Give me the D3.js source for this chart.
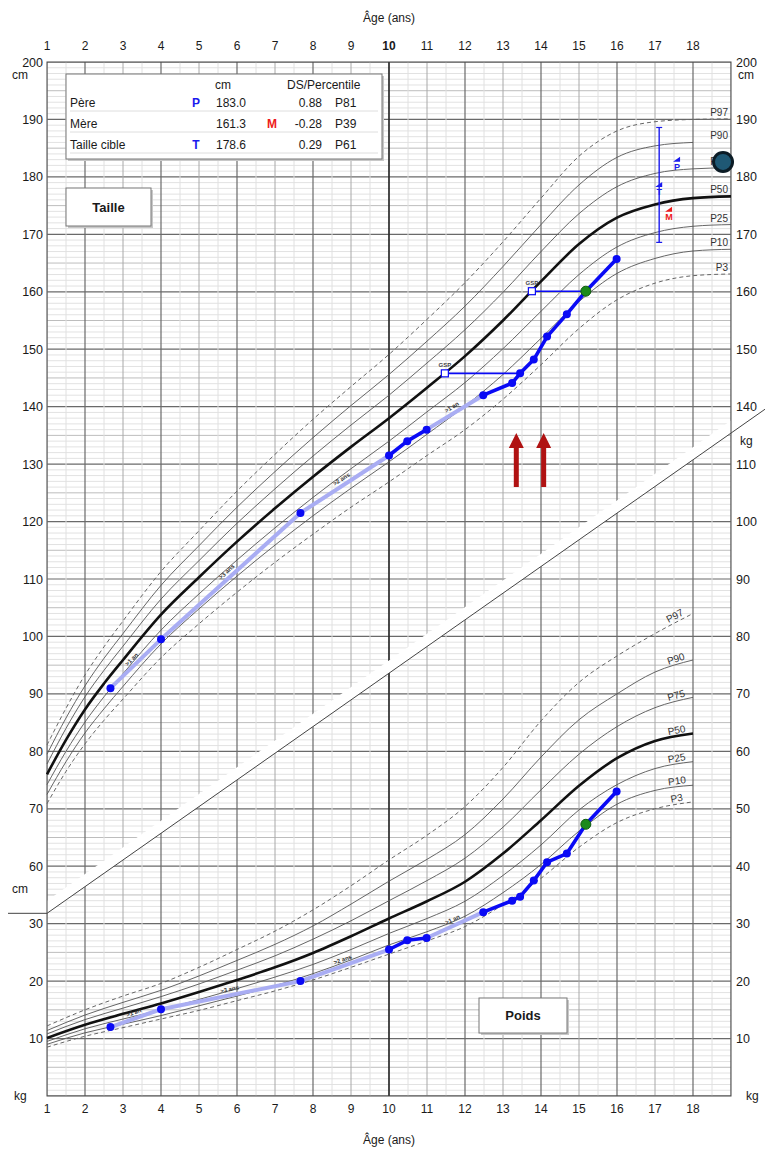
<!DOCTYPE html>
<html>
<head>
<meta charset="utf-8">
<script src="https://cdn.jsdelivr.net/npm/d3@7"></script>
<style>
  body { margin: 0; background: #fff; }
  svg { display: block; }
  text { font-family: "Liberation Sans", Arial, sans-serif; }
</style>
</head>
<body>
<svg id="chart" width="765" height="1150"></svg>
<script>
// ---------- tick labels ----------
const ageTicks = [1, 2, 3, 4, 5, 6, 7, 8, 9, 10, 11, 12, 13, 14, 15, 16, 17, 18];
const heightTicksLeft = [60, 70, 80, 90, 100, 110, 120, 130, 140, 150, 160, 170, 180, 190, 200];
const heightTicksRight = [140, 150, 160, 170, 180, 190, 200];
const weightTicksLeft = [10, 20, 30];
const weightTicksRight = [10, 20, 30, 40, 50, 60, 70, 80, 90, 100, 110];

// ---------- reference percentiles : height (cm) ----------
const pctNames = ["P3", "P10", "P25", "P50", "P75", "P90", "P97"];
const heightAges = [1, 1.5, 2, 2.5, 3, 4, 5, 6, 7, 8, 9, 10, 11, 12, 13, 14, 15, 16, 17, 18, 19];
const heightP3  = [70.9, 76.5, 81.3, 85.4, 89.1, 96.3, 102.2, 107.7, 112.9, 117.8, 122.5, 126.9, 131.5, 136.0, 141.3, 147.3, 153.6, 158.6, 161.5, 162.8, 163.1];
const heightP10 = [72.5, 78.2, 83.2, 87.4, 91.3, 98.7, 104.8, 110.5, 115.9, 121.0, 125.8, 130.4, 135.2, 140.1, 145.6, 151.9, 158.3, 163.2, 165.8, 167.1, 167.4];
const heightP25 = [74.2, 80.0, 85.1, 89.5, 93.5, 101.1, 107.4, 113.3, 118.9, 124.2, 129.2, 134.0, 139.1, 144.2, 150.1, 156.6, 163.0, 167.8, 170.3, 171.4, 171.7];
const heightP50 = [76.0, 82.0, 87.3, 91.8, 95.9, 103.8, 110.3, 116.5, 122.3, 127.8, 133.0, 138.0, 143.3, 148.8, 155.0, 161.8, 168.3, 172.9, 175.2, 176.3, 176.6];
const heightP75 = [77.8, 84.0, 89.5, 94.1, 98.3, 106.5, 113.2, 119.7, 125.7, 131.4, 136.8, 142.0, 147.6, 153.4, 159.9, 167.0, 173.6, 178.3, 180.6, 181.4, 181.6];
const heightP90 = [79.5, 85.8, 91.4, 96.2, 100.5, 108.9, 115.8, 122.5, 128.7, 134.6, 140.2, 145.6, 151.4, 157.5, 164.4, 171.7, 178.6, 183.4, 185.4, 186.0];
const heightP97 = [81.1, 87.5, 93.3, 98.2, 102.7, 111.3, 118.4, 125.3, 131.7, 137.8, 143.5, 149.1, 155.2, 161.6, 168.7, 176.3, 183.6, 188.0, 189.6, 190.0, 190.1];

// ---------- reference percentiles : weight (kg) ----------
const weightAges = [1, 2, 3, 4, 5, 6, 7, 8, 9, 10, 11, 12, 13, 14, 15, 16, 17, 18];
const weightP3  = [8.5, 10.4, 11.9, 13.4, 14.9, 16.6, 18.3, 20.2, 22.4, 24.7, 27.0, 29.5, 33.3, 37.9, 43.3, 47.6, 50.0, 51.2];
const weightP10 = [9.0, 11.0, 12.5, 14.0, 15.7, 17.4, 19.2, 21.3, 23.7, 26.3, 28.6, 31.3, 35.4, 40.3, 46.1, 50.8, 53.2, 54.1];
const weightP25 = [9.5, 11.7, 13.4, 15.0, 16.8, 18.7, 20.7, 22.9, 25.5, 28.3, 30.9, 33.9, 38.4, 43.7, 49.8, 54.2, 57.0, 58.2];
const weightP50 = [10.1, 12.4, 14.3, 16.1, 18.1, 20.2, 22.4, 24.9, 27.8, 30.9, 33.9, 37.3, 42.2, 48.0, 54.0, 58.8, 61.8, 63.1];
const weightP75 = [10.8, 13.3, 15.3, 17.3, 19.5, 21.9, 24.4, 27.3, 30.5, 34.0, 37.5, 41.4, 46.8, 53.3, 59.5, 64.3, 67.6, 69.4];
const weightP90 = [11.4, 14.1, 16.3, 18.4, 20.9, 23.6, 26.4, 29.6, 33.4, 37.4, 41.2, 45.5, 51.7, 59.0, 65.5, 70.0, 73.8, 75.9];
const weightP97 = [12.2, 15.0, 17.4, 19.6, 22.4, 25.5, 28.7, 32.4, 36.6, 41.1, 45.4, 50.4, 57.2, 65.3, 72.0, 76.6, 80.5, 84.0];

// ---------- patient measurements ----------
const visitAges    = [2.67, 4.0, 7.67, 10.0, 10.48, 10.99, 12.48, 13.24, 13.45, 13.81, 14.16, 14.68, 15.18, 15.99];
const visitHeights = [91.0, 99.5, 121.5, 131.5, 134.0, 136.0, 142.0, 144.1, 145.8, 148.2, 152.2, 156.1, 160.1, 165.7];
const visitWeights = [12.0, 15.1, 20.0, 25.5, 27.1, 27.5, 32.0, 34.0, 34.7, 37.5, 40.7, 42.2, 47.3, 53.0];
const highlightedVisit = 12;

// statural age markers (GSP) linked to a visit
const gspAges = [11.47, 13.76];
const gspHeights = [145.8, 160.1];
const gspVisitAges = [13.45, 15.18];

// parental heights and target
const parentRows = ["Père", "Mère", "Taille cible"];
const parentSymbols = ["P", "M", "T"];
const parentCm = [183.0, 161.3, 178.6];
const parentSds = ["0.88", "-0.28", "0.29"];
const parentPct = ["P81", "P39", "P61"];
const targetRange = [168.6, 188.6];
const targetAge = 17.11;
const markerAges = [17.58, 17.37, 17.11];
const markerHeights = [183.0, 174.3, 178.6];

// puberty arrows and side marker
const arrowAges = [13.35, 14.07];
const arrowSpan = [126.0, 135.4];
const sideMarker = [18.79, 182.6];

// diagonal separation between the two panels (in cm units)
const splitLine = [[1, 51.8], [19, 135.4]];
const splitGap = 2.2;

// ---------- scales ----------
const svg = d3.select("#chart");
const x = d3.scaleLinear().domain([1, 19]).range([47, 731]);
const yH = d3.scaleLinear().domain([20, 200]).range([1096, 62]);
const yW = d3.scaleLinear().domain([0, 180]).range([1096, 62]);
const X0 = x(1), X1 = x(19), Y0 = yH(200), Y1 = yH(20);
const splitY = d3.scaleLinear().domain([splitLine[0][0], splitLine[1][0]]).range([splitLine[0][1], splitLine[1][1]]);

// ---------- clip regions ----------
const defs = svg.append("defs");
const clip = defs.append("clipPath").attr("id", "gridClip");
clip.append("polygon").attr("points", [
  [X0, Y0], [X1, Y0], [X1, yH(splitLine[1][1] + splitGap)], [X0, yH(splitLine[0][1] + splitGap)]
].map(p => p.join(",")).join(" "));
clip.append("polygon").attr("points", [
  [X0, yH(splitLine[0][1])], [X1, yH(splitLine[1][1])], [X1, Y1], [X0, Y1]
].map(p => p.join(",")).join(" "));

// ---------- grid ----------
const grid = svg.append("g").attr("clip-path", "url(#gridClip)");
const unitLines = d3.range(20, 201);
const hStyle = v => v % 10 === 0 ? ["#6a6a6a", 1.2] : v % 5 === 0 ? ["#bdbdbd", 1] : ["#e2e2e2", 1];
[2, 1, 0].forEach(level => {
  unitLines.filter(v => (v % 10 === 0 ? 0 : v % 5 === 0 ? 1 : 2) === level).forEach(v => {
    const [c, w] = hStyle(v);
    grid.append("line").attr("x1", X0).attr("x2", X1).attr("y1", yH(v)).attr("y2", yH(v))
      .attr("stroke", c).attr("stroke-width", w);
  });
});
const halfYears = d3.range(1, 19.01, 0.5);
const vLevel = a => a === 10 ? 0 : (a % 2 === 0 ? 1 : (Number.isInteger(a) ? 2 : 3));
[3, 2, 1, 0].forEach(level => {
  halfYears.filter(a => vLevel(a) === level).forEach(a => {
    const st = [["#2a2a2a", 1.7], ["#6a6a6a", 1.2], ["#a8a8a8", 1], ["#e0e0e0", 1]][level];
    grid.append("line").attr("x1", x(a)).attr("x2", x(a)).attr("y1", Y0).attr("y2", Y1)
      .attr("stroke", st[0]).attr("stroke-width", st[1]);
  });
});

// frame and separation line (extended past the right frame)
svg.append("rect").attr("x", X0).attr("y", Y0).attr("width", X1 - X0).attr("height", Y1 - Y0)
  .attr("fill", "none").attr("stroke", "#444").attr("stroke-width", 1);
const splitEndAge = x.invert(765);
svg.append("polyline")
  .attr("points", [[8, yH(splitLine[0][1])], [x(splitLine[0][0]), yH(splitLine[0][1])], [765, yH(splitY(splitEndAge))]].map(p => p.join(",")).join(" "))
  .attr("fill", "none").attr("stroke", "#444").attr("stroke-width", 1);

// ---------- axes labels ----------
const axisFont = 12;
const topG = svg.append("g");
ageTicks.forEach(a => {
  topG.append("text").attr("x", x(a)).attr("y", 50).attr("text-anchor", "middle")
    .attr("font-size", axisFont).attr("font-weight", a === 10 ? "bold" : "normal").attr("fill", "#1a1a1a").text(a);
  topG.append("text").attr("x", x(a)).attr("y", 1113).attr("text-anchor", "middle")
    .attr("font-size", axisFont).attr("fill", "#1a1a1a").text(a);
});
svg.append("text").attr("x", 389).attr("y", 22).attr("text-anchor", "middle").attr("font-size", 12).attr("fill", "#1a1a1a").text("Âge (ans)");
svg.append("text").attr("x", 389).attr("y", 1144).attr("text-anchor", "middle").attr("font-size", 12).attr("fill", "#1a1a1a").text("Âge (ans)");

const lab = (xx, yy, t, anchor) => svg.append("text").attr("x", xx).attr("y", yy).attr("text-anchor", anchor)
  .attr("font-size", 12.5).attr("fill", "#1a1a1a").text(t);
heightTicksLeft.forEach(v => lab(43, yH(v) + 4.5, v, "end"));
heightTicksRight.forEach(v => lab(736, yH(v) + 4.5, v, "start"));
weightTicksLeft.forEach(v => lab(43, yW(v) + 4.5, v, "end"));
weightTicksRight.forEach(v => lab(736, yW(v) + 4.5, v, "start"));
lab(28, 79, "cm", "end").attr("font-size", 12);
lab(738, 79, "cm", "start").attr("font-size", 12);
lab(28, 893, "cm", "end").attr("font-size", 12);
lab(740, 445, "kg", "start").attr("font-size", 12);
lab(14, 1100, "kg", "start").attr("font-size", 12);
lab(746, 1100, "kg", "start").attr("font-size", 12);

// ---------- percentile curves ----------
const lineGen = (ys) => d3.line().x(d => x(d[0])).y(d => ys(d[1])).curve(d3.curveMonotoneX);
const curveStyle = name => name === "P50" ? { c: "#111", w: 2.6, d: null }
  : (name === "P3" || name === "P97") ? { c: "#666", w: 1, d: "4,3" } : { c: "#555", w: 0.9, d: null };

const hCurves = [heightP3, heightP10, heightP25, heightP50, heightP75, heightP90, heightP97];
const wCurves = [weightP3, weightP10, weightP25, weightP50, weightP75, weightP90, weightP97];
const curveG = svg.append("g");

hCurves.forEach((vals, i) => {
  const st = curveStyle(pctNames[i]);
  const pts = vals.map((v, k) => [heightAges[k], v]);
  curveG.append("path").attr("d", lineGen(yH)(pts)).attr("fill", "none")
    .attr("stroke", st.c).attr("stroke-width", st.w).attr("stroke-dasharray", st.d);
  curveG.append("text").attr("x", X1 - 3).attr("y", yH(vals[vals.length - 1]) - 3)
    .attr("text-anchor", "end").attr("font-size", 10).attr("fill", "#333").text(pctNames[i]);
});

wCurves.forEach((vals, i) => {
  const st = curveStyle(pctNames[i]);
  const pts = vals.map((v, k) => [weightAges[k], v]);
  curveG.append("path").attr("d", lineGen(yW)(pts)).attr("fill", "none")
    .attr("stroke", st.c).attr("stroke-width", st.w).attr("stroke-dasharray", st.d);
  const interp = d3.scaleLinear().domain(weightAges).range(vals);
  const a = 17.6;
  const px = x(a), py = yW(interp(a));
  const ang = Math.atan2(yW(interp(17.9)) - yW(interp(17.3)), x(17.9) - x(17.3)) * 180 / Math.PI;
  curveG.append("text").attr("transform", `translate(${px},${py}) rotate(${ang}) translate(0,-3)`)
    .attr("text-anchor", "middle").attr("font-size", 10).attr("fill", "#333").text(pctNames[i]);
});

// ---------- patient series ----------
const blue = "#0a0af5", lightBlue = "#a9adf3";
function drawSeries(values, ys) {
  const g = svg.append("g");
  for (let i = 0; i < visitAges.length - 1; i++) {
    const gap = visitAges[i + 1] - visitAges[i];
    const x1 = x(visitAges[i]), y1 = ys(values[i]), x2 = x(visitAges[i + 1]), y2 = ys(values[i + 1]);
    const long = gap > 1;
    g.append("line").attr("x1", x1).attr("y1", y1).attr("x2", x2).attr("y2", y2)
      .attr("stroke", long ? lightBlue : blue).attr("stroke-width", long ? 4 : 3.6).attr("stroke-linecap", "round");
    if (long) {
      const n = Math.floor(gap);
      const ang = Math.atan2(y2 - y1, x2 - x1) * 180 / Math.PI;
      g.append("text").attr("transform", `translate(${(x1 + x2) / 2},${(y1 + y2) / 2}) rotate(${ang}) translate(0,-4)`)
        .attr("text-anchor", "middle").attr("font-size", 6).attr("font-weight", "bold").attr("fill", "#333")
        .text(">" + n + (n > 1 ? " ans" : " an"));
    }
  }
  visitAges.forEach((a, i) => {
    const hi = i === highlightedVisit;
    g.append("circle").attr("cx", x(a)).attr("cy", ys(values[i])).attr("r", hi ? 5 : 4)
      .attr("fill", hi ? "#1b8a1b" : blue).attr("stroke", hi ? "#0e5a0e" : "none").attr("stroke-width", 1);
  });
}

// GSP markers
const gspG = svg.append("g");
gspAges.forEach((a, i) => {
  const yy = yH(gspHeights[i]);
  gspG.append("line").attr("x1", x(a)).attr("x2", x(gspVisitAges[i])).attr("y1", yy).attr("y2", yy)
    .attr("stroke", blue).attr("stroke-width", 1.6);
  gspG.append("rect").attr("x", x(a) - 3.5).attr("y", yy - 3.5).attr("width", 7).attr("height", 7)
    .attr("fill", "#fff").attr("stroke", blue).attr("stroke-width", 1.2);
  gspG.append("text").attr("x", x(a)).attr("y", yy - 6).attr("text-anchor", "middle")
    .attr("font-size", 6).attr("font-weight", "bold").attr("fill", "#444").text("GSP");
});

drawSeries(visitHeights, yH);
drawSeries(visitWeights, yW);

// ---------- target height ----------
const tg = svg.append("g");
tg.append("line").attr("x1", x(targetAge)).attr("x2", x(targetAge)).attr("y1", yH(targetRange[0])).attr("y2", yH(targetRange[1]))
  .attr("stroke", "#1a1aee").attr("stroke-width", 1.4);
targetRange.forEach(v => tg.append("line").attr("x1", x(targetAge) - 3).attr("x2", x(targetAge) + 3)
  .attr("y1", yH(v)).attr("y2", yH(v)).attr("stroke", "#1a1aee").attr("stroke-width", 1.2));
const markerColors = ["#1a1aee", "#ee1a1a", "#1a1aee"];
markerAges.forEach((a, i) => {
  const mx = x(a), my = yH(markerHeights[i]);
  tg.append("path").attr("d", `M${mx - 4},${my + 2} L${mx + 3},${my - 3} L${mx + 3},${my + 2} Z`).attr("fill", markerColors[i]);
  tg.append("text").attr("x", mx).attr("y", my + 10).attr("text-anchor", "middle").attr("font-size", 9)
    .attr("font-weight", "bold").attr("fill", markerColors[i]).text(parentSymbols[i]);
});

// side marker
svg.append("circle").attr("cx", x(sideMarker[0])).attr("cy", yH(sideMarker[1])).attr("r", 9.5)
  .attr("fill", "#1f5874").attr("stroke", "#0c1c26").attr("stroke-width", 3);

// puberty arrows
arrowAges.forEach(a => {
  const ax = x(a), yb = yH(arrowSpan[0]), yt = yH(arrowSpan[1]);
  svg.append("path").attr("d",
    `M${ax - 2.5},${yb} L${ax - 2.5},${yt + 15} L${ax - 7.5},${yt + 15} L${ax},${yt} L${ax + 7.5},${yt + 15} L${ax + 2.5},${yt + 15} L${ax + 2.5},${yb} Z`)
    .attr("fill", "#b01212");
});

// ---------- boxes ----------
function box(x0, y0, w, h) {
  svg.append("rect").attr("x", x0 + 2).attr("y", y0 + 2).attr("width", w).attr("height", h).attr("fill", "#c8c8c8");
  svg.append("rect").attr("x", x0).attr("y", y0).attr("width", w).attr("height", h)
    .attr("fill", "#fff").attr("stroke", "#777").attr("stroke-width", 1);
}
box(66, 188, 85, 38);
svg.append("text").attr("x", 108.5).attr("y", 212).attr("text-anchor", "middle").attr("font-size", 13)
  .attr("font-weight", "bold").attr("fill", "#1a1a1a").text("Taille");
box(479, 998, 88, 35);
svg.append("text").attr("x", 523).attr("y", 1020).attr("text-anchor", "middle").attr("font-size", 13)
  .attr("font-weight", "bold").attr("fill", "#1a1a1a").text("Poids");

// parents table
box(66, 74, 316, 85);
const tbl = svg.append("g").attr("font-size", 12).attr("fill", "#1a1a1a");
tbl.append("text").attr("x", 223).attr("y", 89).attr("text-anchor", "middle").text("cm");
tbl.append("text").attr("x", 287).attr("y", 89).text("DS/Percentile");
const rowY = [106.5, 127.5, 148.5];
parentRows.forEach((r, i) => {
  const yy = rowY[i];
  tbl.append("text").attr("x", 70).attr("y", yy).text(r);
  const symX = parentSymbols[i] === "M" ? 272 : 196;
  tbl.append("text").attr("x", symX).attr("y", yy).attr("text-anchor", "middle").attr("font-weight", "bold")
    .attr("fill", parentSymbols[i] === "M" ? "#ee1a1a" : "#1a1aee").text(parentSymbols[i]);
  tbl.append("text").attr("x", 246).attr("y", yy).attr("text-anchor", "end").text(parentCm[i].toFixed(1));
  tbl.append("text").attr("x", 322).attr("y", yy).attr("text-anchor", "end").text(parentSds[i]);
  tbl.append("text").attr("x", 335).attr("y", yy).text(parentPct[i]);
  tbl.append("line").attr("x1", 70).attr("x2", 378).attr("y1", yy + 4.5).attr("y2", yy + 4.5)
    .attr("stroke", "#dedede").attr("stroke-width", 1);
});
</script>
</body>
</html>
